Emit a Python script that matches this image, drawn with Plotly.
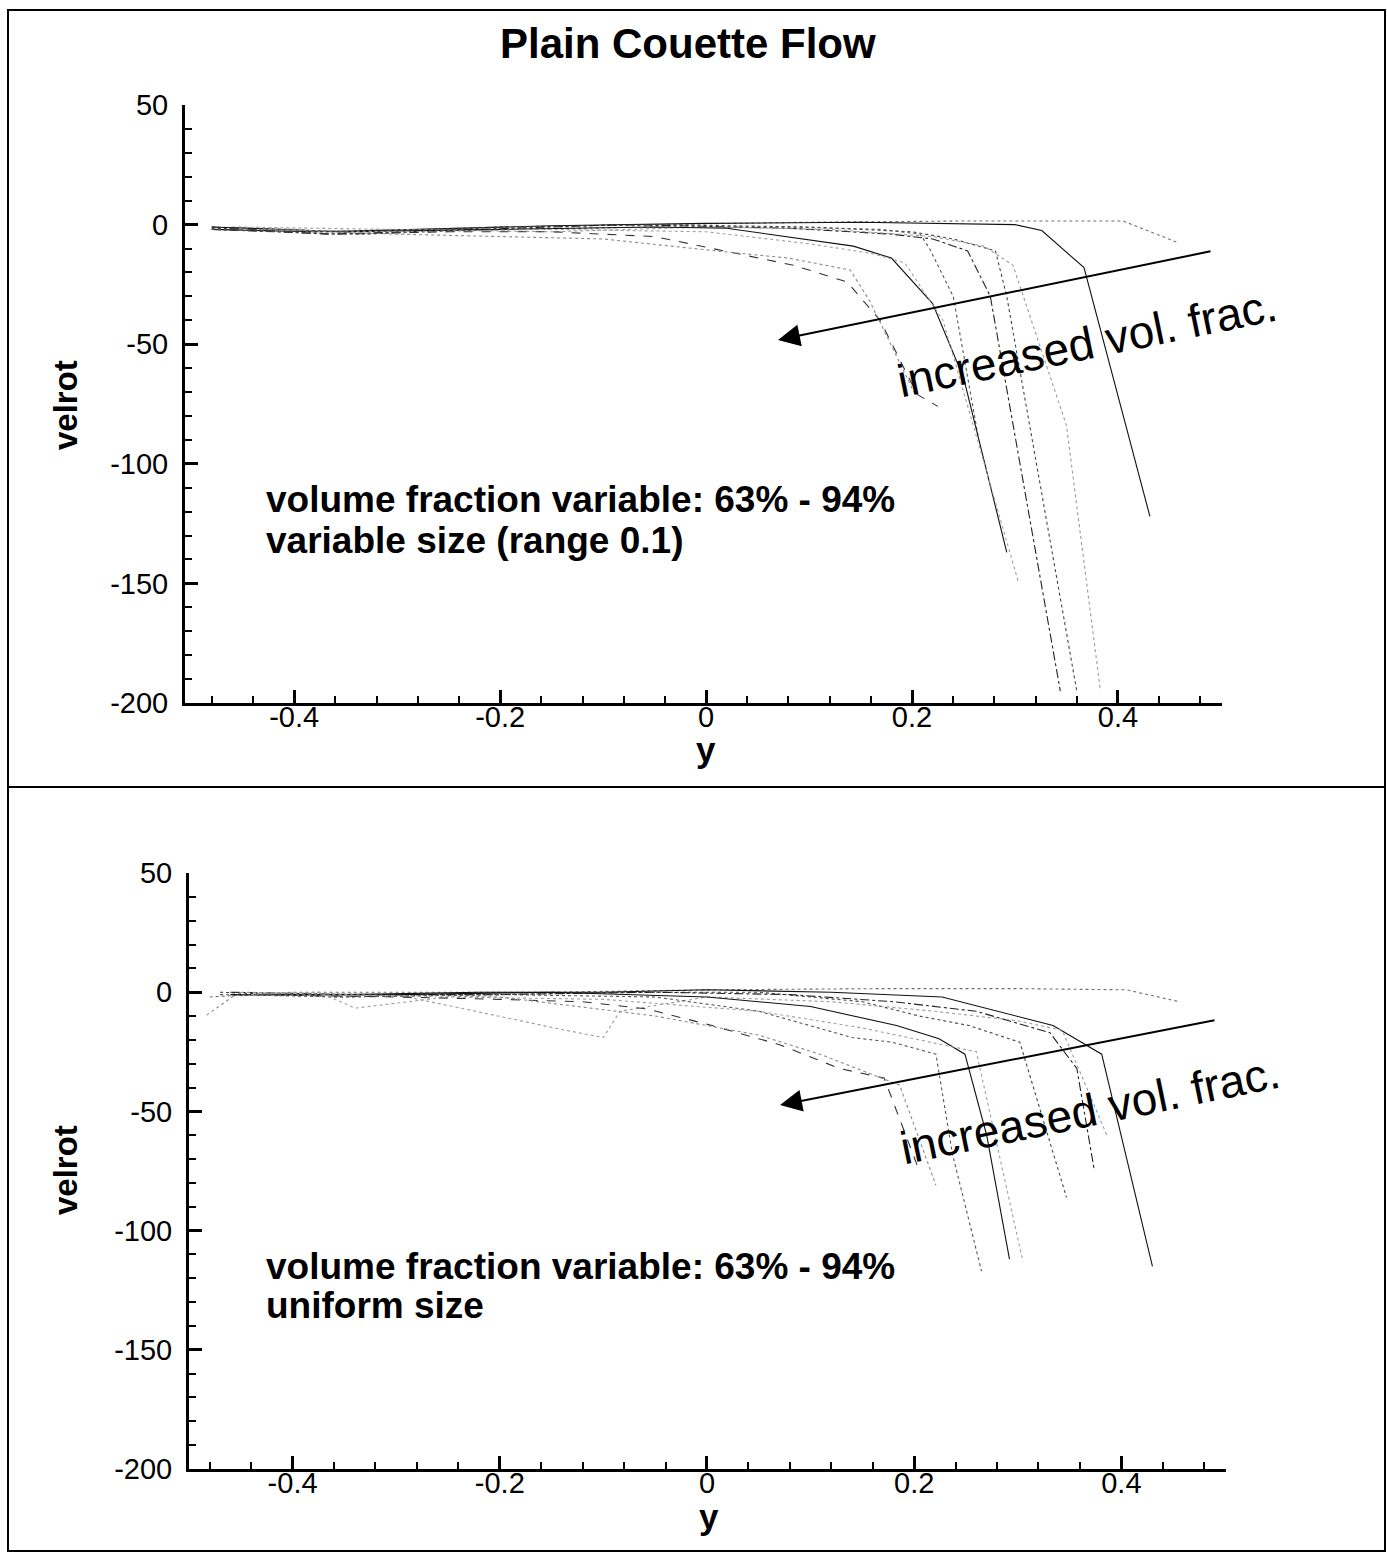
import numpy as np
import plotly.graph_objects as go

W, H = 1387, 1553

# ---------------- data: top panel (variable size) ----------------
top_x = [
    [-0.48, -0.40, -0.33, -0.20, -0.05, 0.10, 0.25, 0.405, 0.458],
    [-0.48, -0.38, -0.28, -0.15, 0.0, 0.15, 0.30, 0.326, 0.367, 0.431],
    [-0.48, -0.35, -0.20, -0.05, 0.10, 0.20, 0.24, 0.281, 0.292, 0.36],
    [-0.48, -0.36, -0.22, -0.08, 0.08, 0.18, 0.22, 0.254, 0.276, 0.344],
    [-0.46, -0.30, -0.15, 0.0, 0.12, 0.22, 0.27, 0.298, 0.35, 0.383],
    [-0.48, -0.34, -0.20, -0.05, 0.08, 0.17, 0.208, 0.217, 0.24, 0.264],
    [-0.48, -0.35, -0.20, -0.05, 0.02, 0.143, 0.18, 0.22, 0.25, 0.292],
    [-0.45, -0.30, -0.15, 0.0, 0.10, 0.16, 0.193, 0.23, 0.303],
    [-0.48, -0.37, -0.25, -0.15, -0.05, 0.085, 0.137, 0.169, 0.205, 0.225],
    [-0.43, -0.30, -0.20, -0.10, 0.01, 0.08, 0.14, 0.159, 0.203],
]
top_y = [
    [-1, -2, -4, -1, 0, 1, 1.5, 1.5, -7.5],
    [-2, -3, -2, -0.5, 0.5, 1, 0, -2.5, -18, -122],
    [-1.5, -3, -1, 0, -1, -3, -6, -11, -30, -195],
    [-2, -4, -2, 0, -1.5, -4, -6, -11, -30, -195],
    [-1, -2, -3, -1, -2, -5, -9, -17, -84, -195],
    [-2, -4, -2, -1, -1, -2, -4, -10, -30, -88],
    [-1, -3, -2, -1, -1.5, -9, -14, -33, -64, -137],
    [-2, -3, -2, -3, -8, -12, -16, -40, -149],
    [-1, -4, -3, -3, -5, -17, -24, -40, -71, -76],
    [-2, -4, -5, -6, -11, -14, -19, -32, -71],
]

# ---------------- data: bottom panel (uniform size) ----------------
bot_x = [
    [-0.48, -0.40, -0.30, -0.15, 0.0, 0.17, 0.30, 0.405, 0.456],
    [-0.45, -0.35, -0.22, -0.10, 0.0, 0.12, 0.227, 0.334, 0.381, 0.43],
    [-0.47, -0.36, -0.20, -0.08, 0.05, 0.15, 0.205, 0.253, 0.302, 0.347],
    [-0.46, -0.34, -0.20, -0.05, 0.08, 0.18, 0.26, 0.331, 0.357, 0.374],
    [-0.45, -0.30, -0.136, -0.10, -0.084, 0.0, 0.12, 0.22, 0.30, 0.343, 0.386],
    [-0.47, -0.35, -0.20, -0.05, 0.05, 0.109, 0.14, 0.179, 0.221, 0.237, 0.265],
    [-0.46, -0.30, -0.15, 0.0, 0.10, 0.183, 0.224, 0.249, 0.27, 0.292],
    [-0.44, -0.374, -0.34, -0.25, -0.10, 0.05, 0.15, 0.26, 0.305],
    [-0.45, -0.30, -0.20, -0.12, -0.058, 0.005, 0.07, 0.128, 0.171, 0.205],
    [-0.483, -0.456, -0.35, -0.20, -0.05, 0.05, 0.109, 0.186, 0.221],
]
bot_y = [
    [-2, 0, 0, 0, 1, 1.5, 1.5, 1, -4],
    [-1, -1, 0, 0, 1, 0, -2, -14, -26, -115],
    [0, -2, -1, 0, 0, -4, -10, -14, -21, -86],
    [0, -1, -1, 0, -1, -4, -8, -17, -32, -75],
    [0, -1, -16, -19, -8, -2, -4, -8, -12, -16, -60],
    [-1, -2, -1, -2, -8, -15, -19, -21, -26, -68, -117],
    [-1, -1, 0, -2, -6, -14, -19.5, -26, -60, -112],
    [-1, 0, -6.7, -2, -3, -8, -15, -25, -113],
    [-1, -2, -3, -4, -7, -14, -22, -32, -36, -75],
    [-9.6, -1.3, -1, -2, -10, -18, -26, -39, -81],
]

line_styles = [
    ("#707070", "dot"), ("#111111", "solid"), ("#444444", "dot"),
    ("#222222", "dashdot"), ("#9a9a9a", "dot"), ("#555555", "dot"),
    ("#111111", "solid"), ("#a0a0a0", "dot"), ("#333333", "dash"),
    ("#8a8a8a", "dot"),
]

x_tick_vals = [-0.4, -0.2, 0, 0.2, 0.4]
x_tick_text = ["-0.4", "-0.2", "0", "0.2", "0.4"]
y_tick_vals = [50, 0, -50, -100, -150, -200]
y_tick_text = ["50", "0", "-50", "-100", "-150", "-200"]

title_text = "Plain Couette Flow"
note_top = ["volume fraction variable: 63% - 94%", "variable size (range 0.1)"]
note_bot = ["volume fraction variable: 63% - 94%", "uniform size"]
arrow_text = "increased vol. frac."


def px(xp):
    return xp / W


def py(yp):
    return 1 - yp / H


FONT = "Liberation Sans, Arial, Helvetica, sans-serif"

fig = go.Figure()
for i, (xs, ys) in enumerate(zip(top_x, top_y)):
    c, d = line_styles[i % len(line_styles)]
    fig.add_trace(go.Scatter(x=xs, y=ys, mode="lines", xaxis="x", yaxis="y",
                             line=dict(color=c, dash=d, width=1.1), showlegend=False))
for i, (xs, ys) in enumerate(zip(bot_x, bot_y)):
    c, d = line_styles[i % len(line_styles)]
    fig.add_trace(go.Scatter(x=xs, y=ys, mode="lines", xaxis="x2", yaxis="y2",
                             line=dict(color=c, dash=d, width=1.1), showlegend=False))

minor_x = [float(v) for v in np.round(np.arange(-0.48, 0.5, 0.04), 3)]
minor_y = list(range(-200, 51, 10))


def xaxis(domain, rng, anchor):
    return dict(domain=domain, range=rng, anchor=anchor, showline=True, linewidth=3,
                linecolor="black", ticks="inside", ticklen=13, tickwidth=3, tickcolor="black",
                tickmode="array", tickvals=x_tick_vals, ticktext=x_tick_text,
                minor=dict(ticks="inside", ticklen=7, tickwidth=1.5, tickcolor="black",
                           tickmode="array", tickvals=minor_x),
                showgrid=False, zeroline=False, ticklabelstandoff=-14, automargin=False,
                tickfont=dict(family=FONT, size=29, color="black"))


def yaxis(domain, anchor):
    return dict(domain=domain, range=[-200, 50], anchor=anchor, showline=True, linewidth=3,
                linecolor="black", ticks="inside", ticklen=13, tickwidth=3, tickcolor="black",
                tickmode="array", tickvals=y_tick_vals, ticktext=y_tick_text,
                minor=dict(ticks="inside", ticklen=7, tickwidth=1.5, tickcolor="black",
                           tickmode="array", tickvals=minor_y),
                showgrid=False, zeroline=False, ticklabelstandoff=8, automargin=False,
                tickfont=dict(family=FONT, size=29, color="black"))


fig.update_layout(
    width=W, height=H, margin=dict(l=0, r=0, t=0, b=0, pad=0, autoexpand=False),
    paper_bgcolor="white", plot_bgcolor="white", showlegend=False,
    xaxis=xaxis([px(185), px(1222)], [-0.506, 0.501], "y"),
    yaxis=yaxis([py(703), py(105)], "x"),
    xaxis2=xaxis([px(189), px(1226)], [-0.5, 0.501], "y2"),
    yaxis2=yaxis([py(1469), py(873)], "x2"),
)


def text_ann(x, y, text, size, angle=0, xanchor="center"):
    return dict(x=px(x), y=py(y), xref="paper", yref="paper", text=text, textangle=angle,
                xanchor=xanchor, yanchor="middle", showarrow=False,
                font=dict(family=FONT, size=size, color="black"))


ann = [text_ann(688, 43, "<b>%s</b>" % title_text, 42)]
for (yx, yy, xx, xy, n1y, n2y, notes, ahx, ahy, atx, aty, tx, ty) in [
    (65, 405, 706, 750, 499, 540, note_top, 778, 340, 1212, 251, 1087, 343),
    (65, 1170, 709, 1516, 1266, 1305, note_bot, 780, 1105, 1216, 1020, 1090, 1110),
]:
    ann.append(text_ann(yx, yy, "<b>velrot</b>", 33, angle=-90))
    ann.append(text_ann(xx, xy, "<b>y</b>", 35))
    for t, yv in zip(notes, [n1y, n2y]):
        ann.append(text_ann(264, yv, "<b>%s</b>" % t, 37, xanchor="left"))
    ann.append(dict(x=px(ahx), y=py(ahy), xref="paper", yref="paper", text="",
                    showarrow=True, ax=atx - ahx, ay=aty - ahy, axref="pixel", ayref="pixel",
                    arrowhead=2, arrowsize=2.2, arrowwidth=2, arrowcolor="black", standoff=0))
    ann.append(text_ann(tx, ty, arrow_text, 46, angle=-11.6))
fig.update_layout(annotations=ann)

shapes = [
    dict(type="rect", xref="paper", yref="paper", x0=px(8), x1=px(1385), y0=py(787), y1=py(10),
         line=dict(color="black", width=2)),
    dict(type="rect", xref="paper", yref="paper", x0=px(8), x1=px(1385), y0=py(1551), y1=py(787),
         line=dict(color="black", width=2)),
]
fig.update_layout(shapes=shapes)

fig.write_html("out.html")
